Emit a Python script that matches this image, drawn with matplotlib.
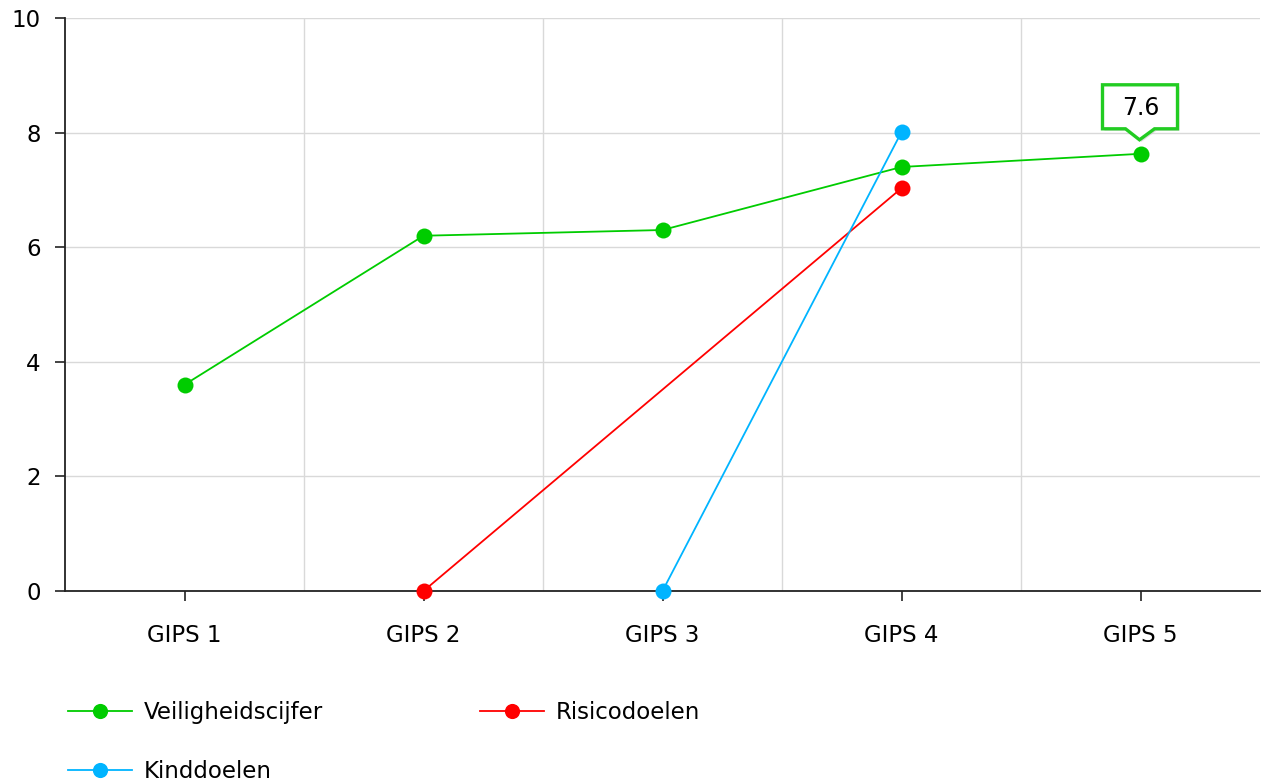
import numpy as np
import matplotlib
matplotlib.use("Agg")
import matplotlib.pyplot as plt
import matplotlib.transforms as mtransforms
from matplotlib.patches import Polygon

categories = ["GIPS 1", "GIPS 2", "GIPS 3", "GIPS 4", "GIPS 5"]
veiligheidscijfer = [3.6, 6.2, 6.3, 7.4, 7.63]
risicodoelen = [None, 0.0, None, 7.03, None]
kinddoelen = [None, None, 0.0, 8.01, None]
yticks = [0, 2, 4, 6, 8, 10]

series = [
    ("Veiligheidscijfer", veiligheidscijfer, "#00cc00"),
    ("Risicodoelen", risicodoelen, "#ff0000"),
    ("Kinddoelen", kinddoelen, "#00b4ff"),
]

FS = 16.5
plt.rcParams['font.family'] = ['Verdana', 'DejaVu Sans']
fig = plt.figure(figsize=(12.61, 7.81), dpi=100)
ax = fig.add_axes([65/1261, 190/781, 1195/1261, 573/781])

x = np.arange(len(categories))
handles = {}
for name, vals, col in series:
    xs = [xi for xi, v in zip(x, vals) if v is not None]
    ys = [v for v in vals if v is not None]
    ln, = ax.plot(xs, ys, color=col, lw=1.3, marker='o', ms=11.5,
                  markeredgewidth=0, zorder=3, label=name, clip_on=False)
    handles[name] = ln

ax.set_xlim(-0.5, len(categories) - 0.5)
ax.set_ylim(0, 10)
ax.set_xticks(x)
ax.set_xticklabels(categories, fontsize=FS)
ax.set_yticks(yticks)
ax.set_yticklabels([str(t) for t in yticks], fontsize=FS)
ax.set_xticks(np.arange(len(categories) - 1) + 0.5, minor=True)
ax.tick_params(axis='x', which='major', length=7, width=1.2, pad=17, color='#222222')
ax.tick_params(axis='x', which='minor', length=0)
ax.tick_params(axis='y', length=7.5, width=1.2, pad=10, color='#222222')
ax.grid(True, axis='y', which='major', color='#d9d9d9', lw=1)
ax.grid(True, axis='x', which='minor', color='#d9d9d9', lw=1)
ax.grid(False, axis='x', which='major')
ax.set_axisbelow(True)
for s in ['top', 'right']:
    ax.spines[s].set_visible(False)
for s in ['left', 'bottom']:
    ax.spines[s].set_linewidth(1.3)
    ax.spines[s].set_color('#222222')

# callout on last point
lx, ly = x[-1], veiligheidscijfer[-1]
trans = mtransforms.Affine2D() + mtransforms.ScaledTranslation(lx, ly, ax.transData)
verts = [(-38, 25), (-15, 25), (-1, 14), (14, 25), (37, 25), (37, 69), (-38, 69)]
shadow = Polygon(verts, closed=True, facecolor='#c8c8c8', edgecolor='none',
                 transform=mtransforms.Affine2D().translate(2, -2) + trans,
                 clip_on=False, zorder=4, alpha=0.6)
ax.add_patch(shadow)
box = Polygon(verts, closed=True, facecolor='white', edgecolor='#22cc22', lw=2.4,
              transform=trans, clip_on=False, zorder=5, joinstyle='miter')
ax.add_patch(box)
ax.annotate(f"{ly:.1f}", xy=(lx, ly), xytext=(0, 46 * 0.72), textcoords='offset points',
            ha='center', va='center', fontsize=17, zorder=6)

order = ["Veiligheidscijfer", "Kinddoelen", "Risicodoelen"]
leg = fig.legend([handles[n] for n in order], order, ncol=2,
                 loc='upper left', bbox_to_anchor=(68/1261, 1 - 701/781),
                 frameon=False, fontsize=FS, handlelength=2.8, handletextpad=0.5,
                 columnspacing=6.86, labelspacing=1.55, markerscale=0.95, borderpad=0,
                 borderaxespad=0)

fig.savefig("out.png", dpi=100)
